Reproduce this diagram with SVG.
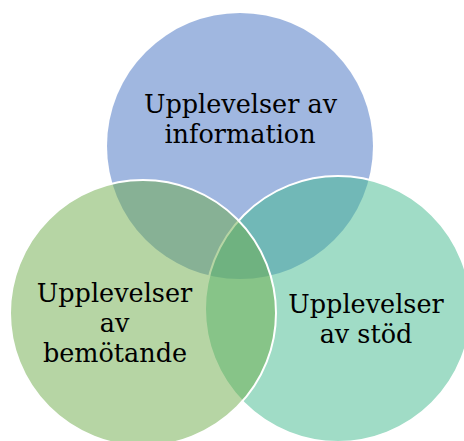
<svg xmlns="http://www.w3.org/2000/svg" width="464" height="441" viewBox="0 0 464 441">
<style>
.c{fill-opacity:0.5}
.s{stroke:#fff;stroke-width:2}
.t{font-family:"DejaVu Serif","Liberation Serif",serif;font-size:25.5px;fill:#000;text-anchor:middle}
</style>
<rect width="464" height="441" fill="#fff"/>
<g id="node-information">
<circle class="c" cx="240" cy="146" r="133" fill="#416fc1"/>
</g>
<g id="node-stod">
<circle class="c s" cx="338" cy="309" r="133" fill="#41b98d"/>
</g>
<g id="node-bemotande">
<circle class="c s" cx="143" cy="313" r="133" fill="#6dab49"/>
</g>
<g id="labels">
<text class="t" x="240.5" y="113">Upplevelser av</text>
<text class="t" x="240" y="143">information</text>
<text class="t" x="114.5" y="302">Upplevelser</text>
<text class="t" x="114.5" y="332">av</text>
<text class="t" x="115" y="362">bemötande</text>
<text class="t" x="366" y="313">Upplevelser</text>
<text class="t" x="366" y="343">av stöd</text>
</g>
<g id="connectors"></g>
</svg>
